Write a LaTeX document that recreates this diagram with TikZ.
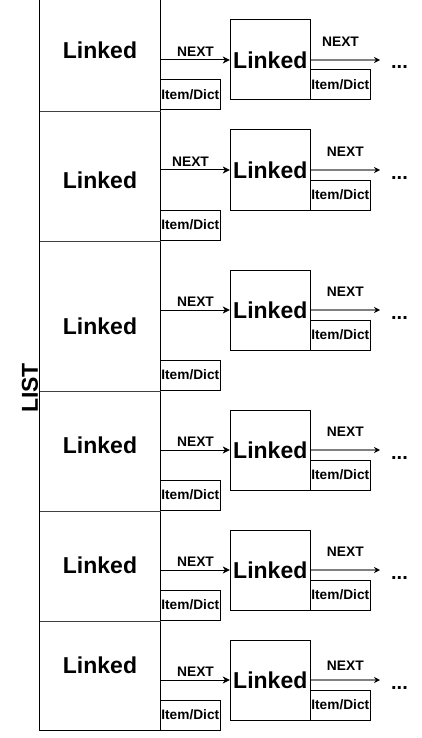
\documentclass[tikz,border=0pt]{standalone}
\usepackage{fontspec}
\setmainfont{Liberation Sans}
\usetikzlibrary{arrows.meta}
\begin{document}
\begin{tikzpicture}[x=1pt,y=-1pt,line width=1pt,
  cellbox/.style={rectangle,draw=none,inner sep=0pt,minimum width=120pt},
  linkbox/.style={rectangle,draw=black,inner sep=0pt,minimum width=80pt,minimum height=80pt,font=\bfseries\fontsize{23}{23}\selectfont},
  itembox/.style={rectangle,draw=black,inner sep=0pt,minimum width=60pt,minimum height=30pt,font=\bfseries\fontsize{13.7}{14}\selectfont},
  bigtext/.style={inner sep=0pt,font=\bfseries\fontsize{23}{23}\selectfont},
  nexttext/.style={inner sep=0pt,font=\bfseries\fontsize{13.8}{14}\selectfont},
  dotstext/.style={inner sep=0pt,anchor=base,font=\bfseries\fontsize{20}{20}\selectfont},
  divider/.style={draw=black!75},
  nextarrow/.style={draw=black,-{Stealth[length=7pt,width=7pt,inset=2pt]}},
  grayarrow/.style={draw=black!50,line width=1.6pt,-{Stealth[length=6pt,width=6pt,inset=2pt,black]}}]
\useasboundingbox (0,0) rectangle (421,738);
% left column cells
\node[cellbox,minimum height=111.5pt] (c1) at (100.3,55.75) {};
\node[cellbox,minimum height=129pt] (c2) at (100.3,176) {};
\node[cellbox,minimum height=150.5pt] (c3) at (100.3,315.75) {};
\node[cellbox,minimum height=119.7pt] (c4) at (100.3,450.85) {};
\node[cellbox,minimum height=110.3pt] (c5) at (100.3,565.85) {};
\node[cellbox,minimum height=109pt] (c6) at (100.3,675.5) {};
\draw (c1.north west) rectangle (c6.south east);
\draw[divider] (c1.south west) -- (c1.south east);
\draw[divider] (c2.south west) -- (c2.south east);
\draw[divider] (c3.south west) -- (c3.south east);
\draw[divider] (c4.south west) -- (c4.south east);
\draw[divider] (c5.south west) -- (c5.south east);
% left texts
\node[bigtext] (t1) at (100,50.5) {Linked};
\node[bigtext] (t2) at (100,180.5) {Linked};
\node[bigtext] (t3) at (100,325.8) {Linked};
\node[bigtext] (t4) at (100,445.7) {Linked};
\node[bigtext] (t5) at (100,565.7) {Linked};
\node[bigtext] (t6) at (100,665.7) {Linked};
% LIST
\node[bigtext,rotate=90] (list) at (30,388) {LIST};
% left item boxes
\node[itembox] (li1) at (190.3,95) {Item/Dict};
\node[itembox] (li2) at (190.3,225) {Item/Dict};
\node[itembox] (li3) at (190.3,375) {Item/Dict};
\node[itembox] (li4) at (190.3,495) {Item/Dict};
\node[itembox] (li5) at (190.3,605) {Item/Dict};
\node[itembox] (li6) at (190.3,715) {Item/Dict};
% right linked boxes
\node[linkbox] (r1) at (270.3,60) {Linked};
\node[linkbox] (r2) at (270.3,170) {Linked};
\node[linkbox] (r3) at (270.3,310) {Linked};
\node[linkbox] (r4) at (270.3,450) {Linked};
\node[linkbox] (r5) at (270.3,570) {Linked};
\node[linkbox] (r6) at (270.3,680) {Linked};
% right item boxes
\node[itembox] (ri1) at (340.3,85) {Item/Dict};
\node[itembox] (ri2) at (340.3,195) {Item/Dict};
\node[itembox] (ri3) at (340.3,335) {Item/Dict};
\node[itembox] (ri4) at (340.3,475) {Item/Dict};
\node[itembox] (ri5) at (340.3,595) {Item/Dict};
\node[itembox] (ri6) at (340.3,705) {Item/Dict};
% arrow ends
\coordinate (e1) at (380,60);
\coordinate (e2) at (380,170);
\coordinate (e3) at (380,310);
\coordinate (e4) at (380,450);
\coordinate (e5) at (380,570);
\coordinate (e6) at (380,680);
% arrows
\foreach \i/\yy in {1/60,2/170,3/310,4/450,5/570,6/680}{
  \draw[nextarrow] (c\i.east |- 0,\yy) -- (r\i.west);
  \draw[grayarrow] (r\i.east) -- (e\i);
}
% NEXT labels
\node[nexttext] (n1) at (195.5,51.3) {NEXT};
\node[nexttext] (n2) at (190.5,161.3) {NEXT};
\node[nexttext] (n3) at (195.5,301.3) {NEXT};
\node[nexttext] (n4) at (195.5,441.3) {NEXT};
\node[nexttext] (n5) at (195.5,561.3) {NEXT};
\node[nexttext] (n6) at (195.5,671.3) {NEXT};
\node[nexttext] (m1) at (340.5,41.3) {NEXT};
\node[nexttext] (m2) at (345.3,151.3) {NEXT};
\node[nexttext] (m3) at (345.3,291.3) {NEXT};
\node[nexttext] (m4) at (345.3,431.3) {NEXT};
\node[nexttext] (m5) at (345.3,551.3) {NEXT};
\node[nexttext] (m6) at (345.3,666) {NEXT};
% dots
\node[dotstext] (d1) at (399.5,69) {...};
\node[dotstext] (d2) at (399.5,179) {...};
\node[dotstext] (d3) at (399.5,319) {...};
\node[dotstext] (d4) at (399.5,459) {...};
\node[dotstext] (d5) at (399.5,579) {...};
\node[dotstext] (d6) at (399.5,689) {...};
\end{tikzpicture}
\end{document}
